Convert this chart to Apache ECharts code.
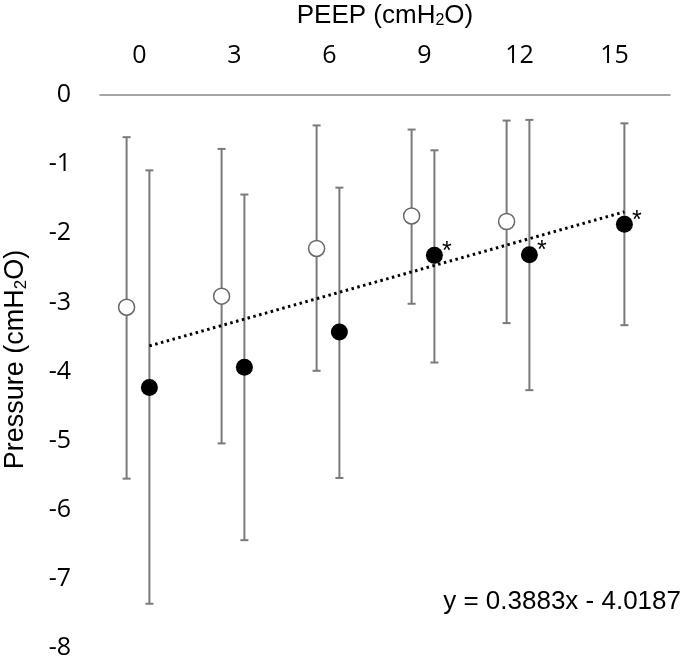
<!DOCTYPE html>
<html><head><meta charset="utf-8">
<script src="https://cdn.jsdelivr.net/npm/echarts@6/dist/echarts.min.js"></script>
<style>html,body{margin:0;padding:0;background:#fff}#c{width:685px;height:660px}</style>
</head><body><div id="c"></div>
<script>
// Categories (PEEP, cmH2O)
const peepLabels = ['0', '3', '6', '9', '12', '15'];
// Open circles (mean, lower and upper error-bar ends)
const openMean = [-3.07, -2.91, -2.22, -1.75, -1.83];
const openLow  = [-5.55, -5.04, -3.99, -3.02, -3.30];
const openHigh = [-0.61, -0.78, -0.44, -0.50, -0.37];
// Filled circles
const filledMean = [-4.23, -3.94, -3.43, -2.32, -2.31, -1.87];
const filledLow  = [-7.36, -6.44, -5.54, -3.87, -4.27, -3.33];
const filledHigh = [-1.09, -1.44, -1.34, -0.80, -0.36, -0.41];
const significant = [false, false, false, true, true, true];
// Trend line end values (first and last PEEP step)
const trendEnds = [-3.63, -1.69];
const trendLabel = 'y = 0.3883x - 4.0187';
// Y axis range
const yMin = -8, yMax = 0, yStep = 1;

const OPEN_OFF = -0.22, FILL_OFF = 0.02;
const GRAY = '#7a7a7a';
const FONT = 'Liberation Sans';

const openPts = openMean.map((v, i) => [i + OPEN_OFF, v]);
const fillPts = filledMean.map((v, i) => [i + FILL_OFF, v]);
const errData = openMean.map((v, i) => [i + OPEN_OFF, openLow[i], openHigh[i]])
  .concat(filledMean.map((v, i) => [i + FILL_OFF, filledLow[i], filledHigh[i]]));
const trendData = [[0 + FILL_OFF, trendEnds[0]], [peepLabels.length - 1 + FILL_OFF, trendEnds[1]]];

function errRender(params, api) {
  const x = api.value(0);
  const lo = api.coord([x, api.value(1)]);
  const hi = api.coord([x, api.value(2)]);
  const cap = 4;
  const style = { stroke: GRAY, lineWidth: 2 };
  return {
    type: 'group',
    children: [
      { type: 'line', shape: { x1: lo[0], y1: lo[1], x2: hi[0], y2: hi[1] }, style },
      { type: 'line', shape: { x1: lo[0] - cap, y1: lo[1], x2: lo[0] + cap, y2: lo[1] }, style },
      { type: 'line', shape: { x1: hi[0] - cap, y1: hi[1], x2: hi[0] + cap, y2: hi[1] }, style }
    ]
  };
}

function richName(size) {
  return {
    a: { fontFamily: FONT, fontSize: size, color: '#000' },
    s: { fontFamily: FONT, fontSize: Math.round(size * 0.62), color: '#000', verticalAlign: 'bottom', padding: [11, 0, 0, 0] }
  };
}

const chart = echarts.init(document.getElementById('c'), null, { renderer: 'canvas' });
chart.setOption({
  animation: false,
  backgroundColor: '#fff',
  grid: { left: 100, right: 15, top: 95, bottom: 12, containLabel: false, outerBoundsMode: 'none' },
  xAxis: [
    {
      type: 'category', data: peepLabels, position: 'top', boundaryGap: true,
      axisLine: { show: true, lineStyle: { color: '#868686', width: 1.5 } },
      axisTick: { show: false },
      splitLine: { show: false },
      axisLabel: { fontFamily: 'Open Sans', fontSize: 25, color: '#000', margin: 27, padding: [0, 16, 0, 0] },
      name: '{a|PEEP (cmH}{s|2}{a|O)}',
      nameLocation: 'middle', nameGap: 66,
      nameTextStyle: { rich: richName(26) }
    },
    { type: 'value', min: -0.5, max: peepLabels.length - 0.5, show: false }
  ],
  yAxis: {
    type: 'value', min: yMin, max: yMax, interval: yStep,
    axisLine: { show: false }, axisTick: { show: false }, splitLine: { show: false },
    axisLabel: { fontFamily: 'Open Sans', fontSize: 25, color: '#000', margin: 29 },
    name: '{a|Pressure (cmH}{s|2}{a|O)}',
    nameLocation: 'middle', nameGap: 70, nameRotate: 90,
    nameTextStyle: { rich: richName(27), padding: [0, 0, 0, 24] }
  },
  series: [
    {
      type: 'custom', xAxisIndex: 1, yAxisIndex: 0, renderItem: errRender,
      data: errData, z: 1, silent: true
    },
    {
      type: 'line', xAxisIndex: 1, data: trendData, symbol: 'none', z: 2,
      lineStyle: { color: '#000', width: 3, type: [2.5, 3.5], cap: 'butt' }
    },
    {
      type: 'scatter', xAxisIndex: 1, data: openPts, symbol: 'circle', symbolSize: 16, z: 3,
      itemStyle: { color: '#fff', borderColor: '#666', borderWidth: 1.5, opacity: 1 }
    },
    {
      type: 'scatter', xAxisIndex: 1, data: fillPts, symbol: 'circle', symbolSize: 17, z: 4,
      itemStyle: { color: '#000', opacity: 1 },
      label: {
        show: true, position: [21, 5], align: 'center', verticalAlign: 'middle',
        fontFamily: FONT, fontSize: 25, color: '#000',
        formatter: p => significant[p.dataIndex] ? '*' : ''
      }
    }
  ],
  graphic: [
    {
      type: 'text', right: 4, top: 589,
      style: { text: trendLabel, fontFamily: FONT, fontSize: 26, fill: '#000' }
    }
  ]
});
</script>
</body></html>
